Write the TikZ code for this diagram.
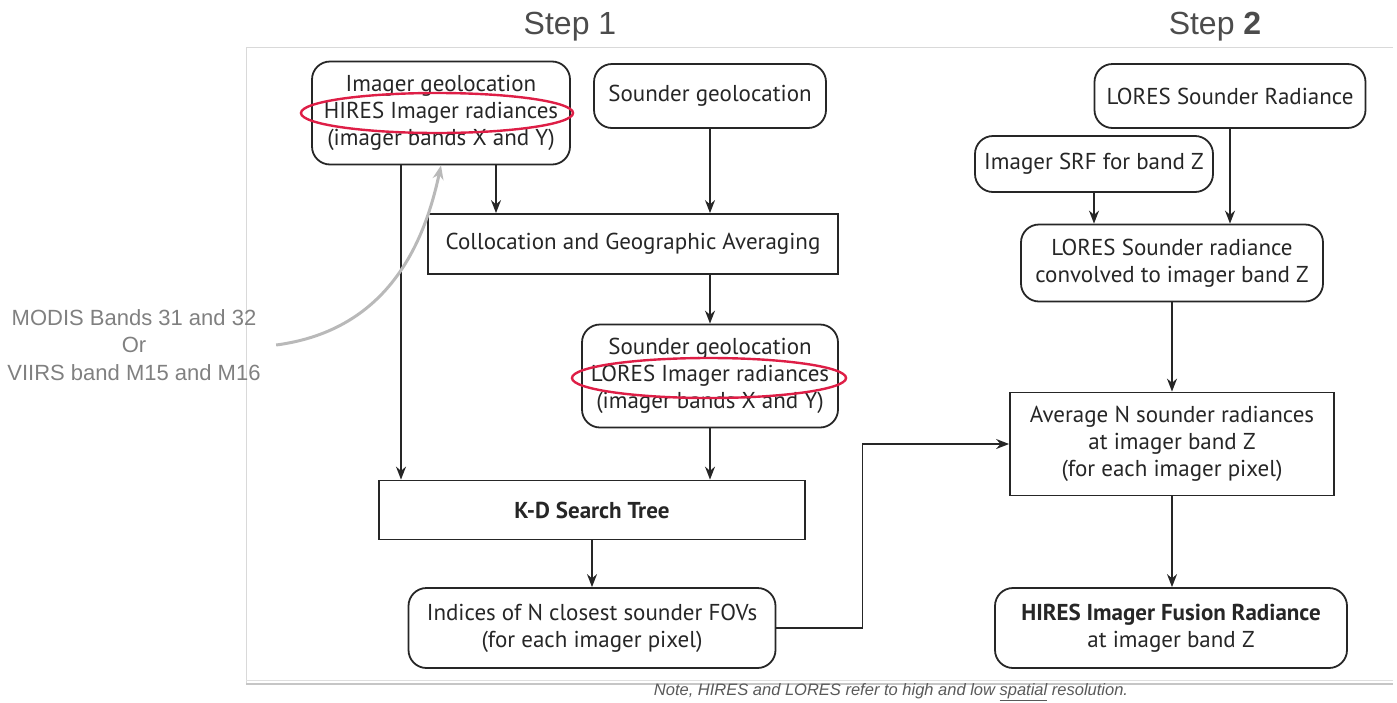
\documentclass[tikz,border=0pt]{standalone}
\usepackage{fontspec}
\setmainfont{PT Sans}
\newfontfamily\arialf{Liberation Sans}
\usetikzlibrary{arrows.meta,calc}
\definecolor{ellred}{RGB}{222,30,70}
\tikzset{
  boxtxt/.style={font=\fontsize{23}{27}\selectfont, align=center, inner sep=0pt, line width=1.8pt, draw=black!85, text=black!85},
  rbox/.style={boxtxt, rounded corners=18pt},
  sbox/.style={boxtxt},
  arr/.style={line width=1.6pt, draw=black!85, -{Stealth[length=13pt,width=10pt]}},
  ell/.style={draw=ellred, line width=2.4pt},
}
\begin{document}
\begin{tikzpicture}[x=1pt,y=-1pt]
\useasboundingbox (0,0) rectangle (1397,702);
% frame
\draw[gray!30, line width=1pt] (246,684) -- (246,47) -- (1393,47);
\draw[gray!45, line width=1.2pt] (246,684) -- (1393,684);
\draw[gray!25, line width=0.8pt] (246,680) -- (1393,680);
% titles
\node[font=\arialf\fontsize{32}{36}\selectfont, text=black!70] (s1) at (570,27) {Step 1};
\node[font=\arialf\fontsize{32}{36}\selectfont, text=black!70] (s2) at (1215,27) {Step \textbf{2}};
% left note
\node[font=\arialf\fontsize{22}{27.5}\selectfont, text=black!50, align=center] (L) at (134,345) {MODIS Bands 31 and 32\\Or\\VIIRS band M15 and M16};
% bottom note
\node[font=\arialf\itshape\fontsize{16.5}{18}\selectfont, text=black!65] (note) at (891,692) {Note, HIRES and LORES refer to high and low \underline{spatial} resolution.};
% nodes
\node[rbox, minimum width=258, minimum height=103] (A) at (441,113) {Imager geolocation\\HIRES Imager radiances\\(imager bands X and Y)};
\node[rbox, minimum width=232, minimum height=64] (B) at (710,96) {Sounder geolocation};
\node[sbox, minimum width=410, minimum height=60] (C) at (633,244) {Collocation and Geographic Averaging};
\node[rbox, minimum width=256, minimum height=103] (D) at (710,376) {Sounder geolocation\\LORES Imager radiances\\(imager bands X and Y)};
\node[sbox, minimum width=426, minimum height=59] (E) at (592,510) {\textbf{K-D Search Tree}};
\node[rbox, minimum width=367, minimum height=80] (F) at (592,628) {Indices of N closest sounder FOVs\\(for each imager pixel)};
\node[rbox, minimum width=271, minimum height=64] (G) at (1230,96) {LORES Sounder Radiance};
\node[rbox, minimum width=238, minimum height=56] (H) at (1094,164) {Imager SRF for band Z};
\node[rbox, minimum width=302, minimum height=77] (I) at (1172,263) {LORES Sounder radiance\\convolved to imager band Z};
\node[sbox, minimum width=324, minimum height=103] (J) at (1172,444) {Average N sounder radiances\\at imager band Z\\(for each imager pixel)};
\node[rbox, minimum width=352, minimum height=80] (K) at (1171,628) {\textbf{HIRES Imager Fusion Radiance}\\at imager band Z};
% red ellipses
\draw[ell] (437,113) ellipse [x radius=136, y radius=20];
\draw[ell] (709,378) ellipse [x radius=137, y radius=20];
% connectors
\draw[arr] ([xshift=55pt]A.south) -- ([xshift=55pt]A.south |- C.north);
\draw[arr] ([xshift=-40pt]A.south) -- ([xshift=-40pt]A.south |- E.north);
\draw[arr] (B.south) -- (B.south |- C.north);
\draw[arr] (C.south -| D.north) -- (D.north);
\draw[arr] (D.south) -- (D.south |- E.north);
\draw[arr] (E.south) -- (F.north);
\draw[arr] (F.east) -- ++(86,0) |- (J.west);
\draw[arr] (G.south) -- (G.south |- I.north);
\draw[arr] (H.south) -- (H.south |- I.north);
\draw[arr] (I.south) -- (I.south |- J.north);
\draw[arr] (J.south) -- (J.south |- K.north);
% grey curved arrow
\coordinate (gs) at ([xshift=12pt]L.east);
\draw[gray!55, line width=3pt, -{Stealth[length=14pt,width=11pt]}] (gs) .. controls (390,330) and (425,240) .. (A.south);
\end{tikzpicture}
\end{document}
